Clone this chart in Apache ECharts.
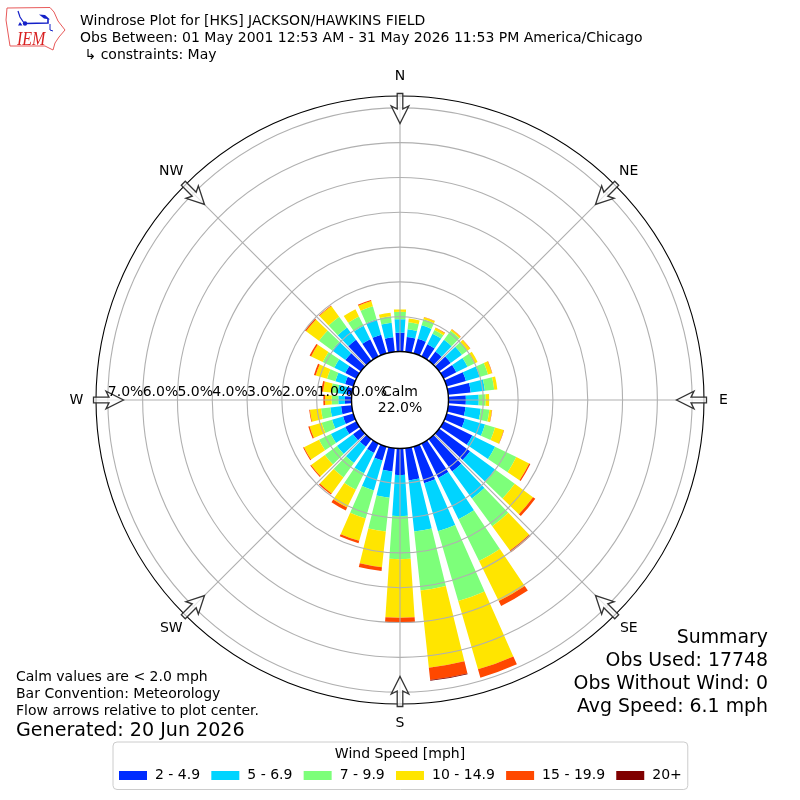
<!DOCTYPE html>
<html><head><meta charset="utf-8">
<style>html,body{margin:0;padding:0;background:#fff}#c{width:800px;height:800px}</style>
<script src="https://cdn.jsdelivr.net/npm/echarts@6/dist/echarts.min.js"></script>
</head><body><div id="c"></div>
<script>
// Direction bins, clockwise from north, 10 degree steps
const directions = ['N','10','20','30','40','50','60','70','80','90','100','110','120','130','140','150','160','170','180','190','200','210','220','230','240','250','260','270','280','290','300','310','320','330','340','350'];
const speedBins = ['2 - 4.9','5 - 6.9','7 - 9.9','10 - 14.9','15 - 19.9','20+'];
const binColors = ['#002cff','#00d4ff','#7dff7a','#ffe500','#ff4800','#7f0000'];
const speed2to5 = [.54,.43,.44,.39,.33,.41,.41,.58,.65,.50,.50,.55,.92,1.10,1.15,1.10,1.10,.93,.76,.67,.42,.30,.27,.28,.36,.31,.31,.19,.16,.25,.36,.55,.75,.55,.56,.42];
const speed5to7 = [.39,.22,.40,.34,.42,.40,.36,.41,.41,.37,.44,.60,.73,.89,.96,1.32,1.43,1.48,1.18,.76,.89,.65,.58,.57,.46,.33,.31,.19,.25,.29,.35,.47,.44,.43,.46,.42];
const speed7to10 = [.21,.20,.18,.12,.32,.20,.22,.25,.27,.20,.25,.30,.68,.70,.99,1.34,2.09,1.70,1.24,.98,.84,.53,.51,.43,.38,.31,.27,.19,.19,.25,.37,.47,.38,.30,.39,.19];
const speed10to15 = [.07,.11,.06,.07,.05,.09,.10,.12,.09,.10,.07,.26,.41,.65,.86,1.28,2.04,2.23,1.68,1.03,.67,.57,.57,.49,.48,.36,.32,.19,.23,.34,.37,.46,.38,.23,.16,.10];
const speed15to20 = [0,0,.01,.01,.01,.01,0,.01,0,0,.01,.01,.04,.08,.06,.16,.25,.36,.14,.11,.07,.09,.04,.03,.03,.04,.02,.05,.05,.05,.05,.04,.02,0,.03,0];
const speed20plus = [0,0,0,0,0,0,0,0,0,0,0,0,0,0,0,0,0,.02,0,0,0,0,0,0,0,0,0,0,0,0,0,0,0,0,0,0];
const binValues = [speed2to5,speed5to7,speed7to10,speed10to15,speed15to20,speed20plus];
const compassLabels = ['W','NW','N','NE','E','SE','S','SW'];
const compassAngles = [180,135,90,45,0,315,270,225];
const ringValues = [1,2,3,4,5,6,7];
const ringLabelValues = [0,1,2,3,4,5,6,7];
const titleLines = ['Windrose Plot for [HKS] JACKSON/HAWKINS FIELD','Obs Between: 01 May 2001 12:53 AM - 31 May 2026 11:53 PM America/Chicago',' \u21B3 constraints: May'];
const noteLines = ['Calm values are < 2.0 mph','Bar Convention: Meteorology','Flow arrows relative to plot center.'];
const summaryLines = ['Summary','Obs Used: 17748','Obs Without Wind: 0','Avg Speed: 6.1 mph'];

const FF = '"DejaVu Sans"';
const CX = 400, CY = 400, R = 304, HOLE = 48.5, LABEL_R = 323.5;
const RMIN = -1.393, RMAX = 7.34;

function txt(x,y,text,size,align,z){
  return {type:'text',x,y,z:z||40,silent:true,style:{text,fontFamily:FF,fontSize:size,fill:'#000',textAlign:align||'left',textVerticalAlign:'middle'}};
}
function arrow(a){
  const t=a*Math.PI/180, ux=Math.cos(t), uy=-Math.sin(t), vx=-uy, vy=ux;
  const loc=[[306.5,-2.8],[306.5,2.8],[291,2.8],[294,8.8],[276.5,0],[294,-8.8],[291,-2.8]];
  const pts=loc.map(p=>[CX+ux*p[0]+vx*p[1],CY+uy*p[0]+vy*p[1]]);
  return {type:'polygon',z:30,silent:true,shape:{points:pts},style:{fill:'rgba(255,255,255,0.7)',stroke:'#333',lineWidth:1.3}};
}
const graphics=[];
titleLines.forEach((s,i)=>graphics.push(txt(80,21.5+i*17,s,14)));
noteLines.forEach((s,i)=>graphics.push(txt(16,677.5+i*17,s,14)));
graphics.push(txt(16,731,'Generated: 20 Jun 2026',19.1));
summaryLines.forEach((s,i)=>graphics.push(txt(768,638+i*23,s,18.9,'right')));
graphics.push({type:'circle',z:10,silent:true,shape:{cx:CX,cy:CY,r:HOLE},style:{fill:'#fff',stroke:'#000',lineWidth:1.4}});
graphics.push(txt(400,392,'Calm',14,'center',40));
graphics.push(txt(400,408.5,'22.0%',14,'center',40));
graphics.push(txt(400,754,'Wind Speed [mph]',14,'center',40));
compassLabels.forEach((s,i)=>{
  const t=compassAngles[i]*Math.PI/180;
  graphics.push(txt(CX+LABEL_R*Math.cos(t),CY-LABEL_R*Math.sin(t),s,14,'center',40));
});
compassAngles.forEach(a=>graphics.push(arrow(a)));
// IEM logo
graphics.push({type:'polygon',z:40,silent:true,shape:{points:[[7,8],[50,7.5],[54,12],[58,21],[65,30],[59,37],[55,43],[53,50],[45,46],[10,46],[8,33],[6,20]]},style:{fill:'#fff',stroke:'#e85a5a',lineWidth:1}});
graphics.push({type:'polyline',z:41,silent:true,shape:{points:[[25,23.5],[48,23],[48,19]]},style:{stroke:'#1420c8',lineWidth:1.6,fill:'none'}});
graphics.push({type:'polyline',z:41,silent:true,shape:{points:[[18,11],[20,17],[24,23]]},style:{stroke:'#1420c8',lineWidth:1.2,fill:'none'}});
graphics.push({type:'polygon',z:41,silent:true,shape:{points:[[39,14.5],[45,15],[50,19.5],[44,18.5]]},style:{fill:'#1420c8'}});
graphics.push({type:'circle',z:41,silent:true,shape:{cx:25,cy:23.5,r:2.2},style:{fill:'#1420c8'}});
graphics.push({type:'polygon',z:41,silent:true,shape:{points:[[20,22],[22.5,25.5],[18,25.5]]},style:{fill:'#1420c8'}});
graphics.push({type:'polyline',z:41,silent:true,shape:{points:[[50,24],[50,30],[53,31]]},style:{stroke:'#1420c8',lineWidth:1,fill:'none'}});
graphics.push({type:'text',z:42,x:17,y:30.5,scaleY:1.2,silent:true,style:{text:'IEM',fontFamily:'"Liberation Serif"',fontStyle:'italic',fontSize:16,fill:'#d82020'}});

const series = speedBins.map((name,i)=>({
  type:'bar',name,coordinateSystem:'polar',polarIndex:0,stack:'wind',barWidth:'77%',
  data:binValues[i],itemStyle:{color:binColors[i]},silent:true,animation:false,z:2
}));
// Radial tick labels, placed through the radius scale along the west spoke
series.push({
  type:'scatter',name:'ringLabels',coordinateSystem:'polar',polarIndex:1,z:35,silent:true,animation:false,
  symbol:'rect',symbolSize:1,itemStyle:{color:'rgba(0,0,0,0)',opacity:1},
  data:ringLabelValues.map(v=>[v,0]),
  label:{show:true,position:[0.5,-14.5],fontFamily:FF,fontSize:14,color:'#000',opacity:1,formatter:p=>p.value[0].toFixed(1)+'%'},
  labelLayout:{hideOverlap:false}
});

const chart = echarts.init(document.getElementById('c'),null,{renderer:'canvas'});
chart.setOption({
  animation:false,
  backgroundColor:'#fff',
  polar:[{center:[CX,CY],radius:[0,R]},{center:[CX,CY],radius:[0,R]}],
  angleAxis:[
    {polarIndex:0,type:'category',data:directions,startAngle:95,clockwise:true,boundaryGap:true,show:false},
    {polarIndex:1,type:'value',min:0,max:360,interval:45,startAngle:180,clockwise:true,z:5,
     axisLine:{show:true,lineStyle:{color:'#000',width:1.1}},axisTick:{show:false},
     splitLine:{show:true,lineStyle:{color:'#b0b0b0',width:1.1}},
     axisLabel:{show:false}}
  ],
  radiusAxis:[
    {polarIndex:0,type:'value',min:RMIN,max:RMAX,show:false},
    {polarIndex:1,type:'value',min:RMIN,max:RMAX,z:20,
     axisLine:{show:false},
     axisTick:{show:false,customValues:ringValues},
     splitLine:{show:true,lineStyle:{color:'#b0b0b0',width:1.1}},
     axisLabel:{show:false}}
  ],
  legend:{show:true,data:speedBins,left:113,top:742,orient:'horizontal',icon:'rect',itemWidth:28,itemHeight:9,itemGap:11.2,
    padding:[26.5,6,7,6],backgroundColor:'#fff',borderColor:'#ccc',borderWidth:1,borderRadius:4,selectedMode:false,
    textStyle:{fontFamily:FF,fontSize:14,color:'#000',padding:[1,0,0,3]}},
  graphic:{elements:graphics},
  series
});
</script></body></html>
